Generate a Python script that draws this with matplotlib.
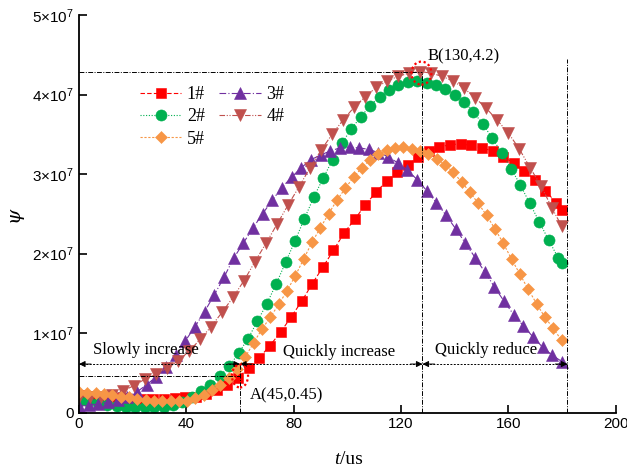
import matplotlib
matplotlib.use("Agg")
import matplotlib.pyplot as plt
from matplotlib.patches import Ellipse

plt.rcParams['mathtext.fontset'] = 'custom'
plt.rcParams['mathtext.rm'] = 'Liberation Sans'
plt.rcParams['mathtext.it'] = 'Liberation Sans:italic'

SCALE = 1e7

# ---- data (psi in units of 1e7) ----
t_1 = [0, 4.0, 7.9, 11.9, 15.8, 19.8, 23.7, 27.7, 31.6, 35.6, 39.5, 43.5, 47.4, 51.4, 55.3, 59.3,
       63.2, 67.2, 71.1, 75.1, 79.0, 83.0, 86.9, 90.9, 94.8, 98.8, 102.7, 106.7, 110.6, 114.6,
       118.5, 122.5, 126.4, 130.4, 134.3, 138.3, 142.2, 146.2, 150.1, 154.1, 158.0, 162.0,
       165.9, 169.9, 173.8, 177.8, 179.8]
psi_1 = [0.22, 0.21, 0.20, 0.19, 0.18, 0.17, 0.17, 0.17, 0.17, 0.18, 0.19, 0.20, 0.23, 0.28, 0.35,
         0.44, 0.56, 0.69, 0.84, 1.01, 1.20, 1.40, 1.62, 1.83, 2.04, 2.26, 2.43, 2.61, 2.77, 2.91,
         3.03, 3.12, 3.21, 3.29, 3.34, 3.37, 3.38, 3.36, 3.33, 3.29, 3.22, 3.14, 3.04, 2.93, 2.79,
         2.64, 2.55]

t_2 = [0, 3.5, 7, 10.5, 14, 17.5, 21, 24.5, 28, 31.5, 35, 38.5, 42, 45.5, 49, 52.5, 56, 59.5,
       63, 66.5, 70, 73.5, 77, 80.5, 84, 87.5, 91, 94.5, 98, 101.5, 105, 108.5, 112, 115.5, 119,
       122.5, 126, 129.5, 133, 136.5, 140, 143.5, 147, 150.5, 154, 157.5, 161, 164.5, 168, 171.5,
       175, 178.5, 180]
psi_2 = [0.15, 0.14, 0.12, 0.10, 0.08, 0.07, 0.065, 0.065, 0.07, 0.075, 0.09, 0.13, 0.19, 0.27,
         0.35, 0.46, 0.58, 0.75, 0.93, 1.15, 1.37, 1.62, 1.89, 2.16, 2.44, 2.71, 2.95, 3.18, 3.39,
         3.57, 3.72, 3.86, 3.97, 4.06, 4.12, 4.16, 4.17, 4.15, 4.12, 4.07, 4.00, 3.91, 3.78, 3.63,
         3.45, 3.27, 3.07, 2.86, 2.63, 2.40, 2.17, 1.95, 1.88]

t_3 = [0, 3.6, 7.2, 10.8, 14.4, 18, 21.6, 25.2, 28.8, 32.4, 36, 39.6, 43.2, 46.8, 50.4, 54, 57.6,
       61.2, 64.8, 68.4, 72, 75.6, 79.2, 82.8, 86.4, 90, 93.6, 97.2, 100.8, 104.4, 108, 111.6,
       115.2, 118.8, 122.4, 126, 129.6, 133.2, 136.8, 140.4, 144, 147.6, 151.2, 154.8, 158.4,
       162, 165.6, 169.2, 172.8, 176.4, 180]
psi_3 = [0.08, 0.09, 0.11, 0.13, 0.16, 0.20, 0.26, 0.35, 0.45, 0.57, 0.72, 0.90, 1.08, 1.27, 1.48,
         1.70, 1.94, 2.13, 2.32, 2.50, 2.67, 2.83, 2.96, 3.08, 3.18, 3.24, 3.29, 3.33, 3.34, 3.33,
         3.31, 3.27, 3.22, 3.14, 3.05, 2.93, 2.79, 2.64, 2.48, 2.31, 2.13, 1.95, 1.77, 1.58, 1.40,
         1.23, 1.09, 0.95, 0.82, 0.72, 0.64]

t_4 = [0, 4.1, 8.2, 12.3, 16.4, 20.5, 24.6, 28.7, 32.8, 36.9, 41.0, 45.1, 49.2, 53.3, 57.4, 61.5,
       65.6, 69.7, 73.8, 77.9, 82.0, 86.1, 90.2, 94.3, 98.4, 102.5, 106.6, 110.7, 114.8, 118.9,
       123.0, 127.1, 131.2, 135.3, 139.4, 143.5, 147.6, 151.7, 155.8, 159.9, 164.0, 168.1,
       172.2, 176.3, 179.8]
psi_4 = [0.20, 0.20, 0.20, 0.22, 0.27, 0.34, 0.42, 0.48, 0.56, 0.65, 0.77, 0.92, 1.08, 1.26, 1.45,
         1.66, 1.90, 2.13, 2.37, 2.61, 2.84, 3.08, 3.30, 3.50, 3.68, 3.84, 3.97, 4.09, 4.17, 4.23,
         4.27, 4.29, 4.27, 4.23, 4.17, 4.08, 3.96, 3.83, 3.68, 3.52, 3.32, 3.08, 2.85, 2.57, 2.35]

t_5 = [0, 3.1, 6.2, 9.3, 12.4, 15.5, 18.6, 21.7, 24.8, 27.9, 31.0, 34.1, 37.2, 40.3, 43.4, 46.5,
       49.6, 52.7, 55.8, 58.9, 62.0, 65.1, 68.2, 71.3, 74.4, 77.5, 80.6, 83.7, 86.8, 89.9, 93.0,
       96.1, 99.2, 102.3, 105.4, 108.5, 111.6, 114.7, 117.8, 120.9, 124.0, 127.1, 130.2, 133.3,
       136.4, 139.5, 142.6, 145.7, 148.8, 151.9, 155.0, 158.1, 161.2, 164.3, 167.4, 170.5,
       173.6, 176.7, 179.8]
psi_5 = [0.26, 0.25, 0.24, 0.23, 0.22, 0.20, 0.19, 0.17, 0.16, 0.15, 0.14, 0.14, 0.14, 0.15, 0.18,
         0.22, 0.28, 0.35, 0.44, 0.55, 0.70, 0.88, 1.05, 1.20, 1.36, 1.53, 1.72, 1.93, 2.14, 2.32,
         2.50, 2.67, 2.82, 2.96, 3.08, 3.18, 3.25, 3.30, 3.33, 3.34, 3.32, 3.29, 3.25, 3.19, 3.12,
         3.02, 2.90, 2.77, 2.63, 2.48, 2.31, 2.13, 1.93, 1.74, 1.55, 1.37, 1.20, 1.06, 0.91]

labels = ['1#', '2#', '3#', '4#', '5#']
x_ticks = [0, 40, 80, 120, 160, 200]
y_ticks = [0, 1, 2, 3, 4, 5]
y_ticklabels = ['0', r'1×10$^7$', r'2×10$^7$', r'3×10$^7$', r'4×10$^7$', r'5×10$^7$']

# ---- figure ----
fig = plt.figure(figsize=(6.27, 4.72), dpi=100)
ax = fig.add_axes([0.126, 0.126, 0.856, 0.842])

series = [
    (t_1, psi_1, '#FF0000', 's', 6.5, (0, (4, 2))),
    (t_2, psi_2, '#00B050', 'o', 8, (0, (1, 1.5))),
    (t_3, psi_3, '#7030A0', '^', 8, (0, (6, 2, 1, 2))),
    (t_4, psi_4, '#C0504D', 'v', 8, (0, (5, 1.5, 1, 1.5, 1, 1.5))),
    (t_5, psi_5, '#F79646', 'D', 6.5, (0, (2, 1.5))),
]
handles = []
for (t, p, c, m, ms, ls), lab in zip(series, labels):
    h, = ax.plot(t, [v * SCALE for v in p], color=c, marker=m, markersize=ms, linestyle=ls,
                 linewidth=0.8, markeredgewidth=0.4, markeredgecolor=c, label=lab)
    handles.append(h)

ax.set_xlim(0, 200)
ax.set_ylim(0, 5 * SCALE)
ax.set_xticks(x_ticks)
ax.set_yticks([v * SCALE for v in y_ticks])
ax.set_yticklabels(y_ticklabels)
for s in ['top', 'right']:
    ax.spines[s].set_visible(False)
for s in ['left', 'bottom']:
    ax.spines[s].set_linewidth(1.3)
ax.tick_params(direction='in', length=6, width=1.2, labelsize=11)
for lab in ax.get_xticklabels() + ax.get_yticklabels():
    lab.set_fontfamily('Liberation Sans')

fig.text(0.542, 0.008, '/us', fontsize=14, family='Liberation Serif', ha='left', va='bottom')
fig.text(0.542, 0.008, 't', fontsize=14, family='Liberation Serif', style='italic', ha='right', va='bottom')
fig.text(0.022, 0.545, 'ψ', fontsize=14, family='DejaVu Serif', style='italic', rotation=90,
         ha='center', va='center')

# ---- annotations ----
k = 'black'
dd = (0, (5, 1.5, 1, 1.5))
ax.plot([0, 128], [4.29 * SCALE] * 2, color=k, lw=0.7, ls=dd)
ax.plot([128, 128], [0, 4.29 * SCALE], color=k, lw=0.7, ls=dd)
ax.plot([182, 182], [0, 4.45 * SCALE], color=k, lw=0.7, ls=dd)
ax.plot([0, 60], [0.46 * SCALE] * 2, color=k, lw=0.7, ls=dd)
ax.plot([60, 60], [0, 0.62 * SCALE], color=k, lw=0.7, ls=dd)

ya = 0.61 * SCALE
ax.plot([0, 182], [ya, ya], color=k, lw=0.7, ls=(0, (2, 1.5)))
for x0, x1 in [(0, 60), (60, 128), (128, 182)]:
    ax.annotate('', xy=(x0, ya), xytext=(x0 + 4.5, ya),
                arrowprops=dict(arrowstyle='-|>', color=k, lw=0.7, mutation_scale=9,
                                shrinkA=0, shrinkB=0))
    ax.annotate('', xy=(x1, ya), xytext=(x1 - 4.5, ya),
                arrowprops=dict(arrowstyle='-|>', color=k, lw=0.7, mutation_scale=9,
                                shrinkA=0, shrinkB=0))

ax.add_patch(Ellipse((60, 0.46 * SCALE), 6, 0.29 * SCALE, fill=False, ec='red', lw=1.6,
                     ls=(0, (1, 1.2)), zorder=5))
ax.add_patch(Ellipse((127.6, 4.27 * SCALE), 7.4, 0.29 * SCALE, fill=False, ec='red', lw=1.6,
                     ls=(0, (1, 1.2)), zorder=5))

tf = dict(fontsize=12, family='Liberation Serif', va='center', ha='left')
ax.text(5.2, 0.79 * SCALE, 'Slowly increase', **tf)
ax.text(75.9, 0.76 * SCALE, 'Quickly increase', **tf)
ax.text(132.5, 0.79 * SCALE, 'Quickly reduce', **tf)
ax.text(63.6, 0.22 * SCALE, 'A(45,0.45)', **tf)
ax.text(130, 4.48 * SCALE, 'B(130,4.2)', **tf)

order = [0, 1, 4, 2, 3]
ax.legend([handles[i] for i in order], [labels[i] for i in order], ncol=2, loc='upper left',
          bbox_to_anchor=(0.10, 0.84), frameon=False,
          prop={'family': 'Liberation Serif', 'size': 13}, handlelength=2.3,
          handletextpad=0.3, columnspacing=0.8, labelspacing=0.3, borderaxespad=0)

fig.savefig('out.png', dpi=100)
